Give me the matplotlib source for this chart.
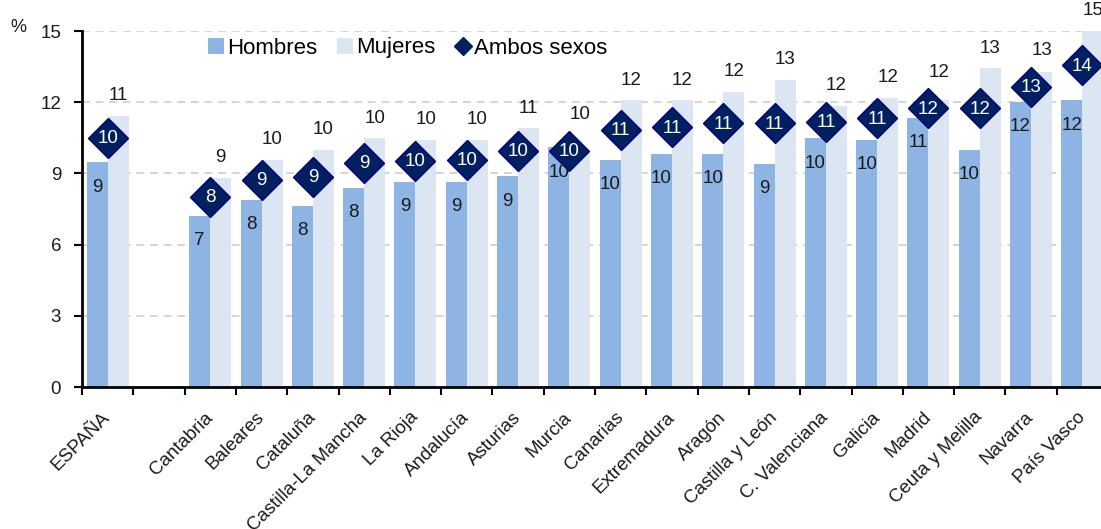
import matplotlib
matplotlib.use("Agg")
import matplotlib.pyplot as plt
from matplotlib.patches import Patch
from matplotlib.lines import Line2D
import numpy as np

plt.rcParams['font.family'] = ['Liberation Sans', 'DejaVu Sans']

categories = ["ESPAÑA", "Cantabria", "Baleares", "Cataluña", "Castilla-La Mancha",
              "La Rioja", "Andalucía", "Asturias", "Murcia", "Canarias", "Extremadura",
              "Aragón", "Castilla y León", "C. Valenciana", "Galicia", "Madrid",
              "Ceuta y Melilla", "Navarra", "País Vasco"]
hombres = [9.48, 7.21, 7.88, 7.63, 8.39, 8.64, 8.64, 8.89, 10.1, 9.57, 9.82,
           9.82, 9.40, 10.49, 10.41, 11.34, 9.99, 12.01, 12.09]
mujeres = [11.42, 8.81, 9.57, 9.99, 10.49, 10.41, 10.41, 10.91, 9.85, 12.09, 12.09,
           12.43, 12.94, 11.84, 12.18, 12.09, 13.44, 13.27, 15.04]
ambos = [10.49, 8.02, 8.72, 8.84, 9.45, 9.54, 9.57, 9.96, 9.95, 10.83, 10.94,
         11.11, 11.11, 11.18, 11.32, 11.74, 11.74, 12.66, 13.55]
yticks = [0, 3, 6, 9, 12, 15]

c_h = "#8EB4E3"
c_m = "#DCE6F2"
c_a = "#002060"

W, H = 1101, 529
fig = plt.figure(figsize=(W / 100, H / 100), dpi=100)
left, right_px, bot, top = 82, 1108, 387, 31
ax = fig.add_axes([left / W, 1 - bot / H, (right_px - left) / W, (bot - top) / H])

# ESPAÑA in first slot, an empty slot, then regions
pos = np.array([0] + list(range(2, 2 + len(categories) - 1)), dtype=float)
bw = 0.41
ax.bar(pos - bw / 2, hombres, width=bw, color=c_h, zorder=2, linewidth=0)
ax.bar(pos + bw / 2, mujeres, width=bw, color=c_m, zorder=2, linewidth=0)
ax.plot(pos, ambos, linestyle='none', marker='D', markersize=20.5,
        markerfacecolor=c_a, markeredgecolor="#000080", markeredgewidth=1, zorder=4)

fs = 13.5
tc = '#1a1a1a'
for x, h, m, a in zip(pos, hombres, mujeres, ambos):
    ax.annotate(f"{h:.0f}", (x - bw / 2, h), xytext=(0, -18), textcoords='offset points',
                ha='center', va='center', fontsize=fs, color=tc, zorder=5)
    if a + 1.52 > m + 0.84:
        ax.annotate(f"{m:.0f}", (x + bw / 2, a), xytext=(0, 26), textcoords='offset points',
                    ha='center', va='center', fontsize=fs, color=tc, zorder=5,
                    annotation_clip=False)
    else:
        ax.annotate(f"{m:.0f}", (x + bw / 2, m), xytext=(0, 14.4), textcoords='offset points',
                    ha='center', va='center', fontsize=fs, color=tc, zorder=5,
                    annotation_clip=False)
    ax.annotate(f"{a:.0f}", (x, a), xytext=(0, -0.5), textcoords='offset points',
                ha='center', va='center', fontsize=fs, color='white', zorder=6)

ax.set_xlim(-0.5, 19.5)
ax.set_ylim(0, 15)
ax.set_yticks(yticks)
ax.set_yticklabels([str(v) for v in yticks], fontsize=13.5, color=tc)
ax.yaxis.grid(True, linestyle=(0, (4, 3)), color='#D4D4D4', linewidth=1.4, zorder=0)
ax.set_axisbelow(True)

ax.set_xticks(pos)
ax.set_xticklabels(categories, rotation=45, ha='right', va='center', rotation_mode='anchor',
                   fontsize=13.5, color=tc)
ax.tick_params(axis='x', which='major', length=0, pad=20)
ax.set_xticks(np.arange(-0.5, 20.0, 1.0), minor=True)
ax.tick_params(axis='x', which='minor', length=6, width=1.5, direction='out', color='black')
ax.tick_params(axis='y', length=6, width=1.5, direction='out', pad=9, color='black')

for s in ['top', 'right']:
    ax.spines[s].set_visible(False)
for s in ['left', 'bottom']:
    ax.spines[s].set_linewidth(2)
    ax.spines[s].set_color('black')
    ax.spines[s].set_zorder(5)

fig.text(18 / W, 1 - 27 / H, "%", ha='center', va='center', fontsize=13, color=tc)

handles = [Patch(facecolor=c_h, edgecolor='none', label='Hombres'),
           Patch(facecolor=c_m, edgecolor='none', label='Mujeres'),
           Line2D([], [], linestyle='none', marker='D', markersize=9.5,
                  markerfacecolor=c_a, markeredgecolor=c_a, label='Ambos sexos')]
fig.legend(handles=handles, loc='center', bbox_to_anchor=(408 / W, 1 - 48 / H),
           ncol=3, frameon=False, fontsize=16, handlelength=0.7, handleheight=0.7,
           handletextpad=0.15, columnspacing=0.9, borderpad=0)

fig.savefig("out.png", dpi=100)
